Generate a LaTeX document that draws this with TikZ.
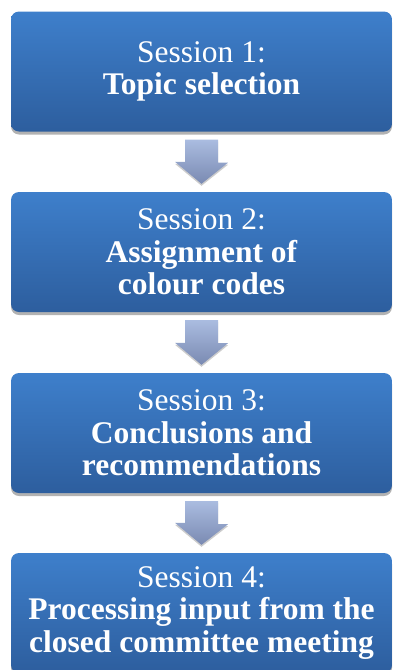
\documentclass[tikz,border=0pt]{standalone}
\usepackage{fontspec}
\setmainfont{Liberation Serif}
\usetikzlibrary{shadows}

\definecolor{boxtop}{RGB}{62,127,203}
\definecolor{boxbot}{RGB}{45,94,158}
\definecolor{arrtop}{RGB}{170,188,224}
\definecolor{arrbot}{RGB}{122,138,178}

% block arrow from the bottom of one session to the top of the next
\newcommand{\sessarrow}[2]{%
  \shade [arrowfill] ([xshift=-16.5pt,yshift=-8pt]#1.south) -- ++(33,0) -- ++(0,-23)
    -- ++(10,0) -- ([yshift=8pt]#2.north) -- ++(-26.5,22) -- ++(10,0) -- cycle;}

\begin{document}
\begin{tikzpicture}[x=1pt, y=1pt]
\tikzset{
  session/.style={rectangle, rounded corners=8pt, minimum width=381pt, minimum height=120pt,
    top color=boxtop, bottom color=boxbot, text=white, align=center, inner sep=0pt,
    font=\fontsize{31.5}{32.5}\selectfont,
    drop shadow={shadow xshift=0pt, shadow yshift=-3pt, opacity=0.3, fill=black}},
  arrowfill/.style={top color=arrtop, bottom color=arrbot,
    drop shadow={shadow xshift=0pt, shadow yshift=-2pt, opacity=0.2, fill=black}},
}
\clip (0,0) rectangle (393,-670);
%\draw [lightgray, dashed](0,0) grid (393,-670);

\node [session] (S1) at (201.5,-71.5) {Session 1:\\ \textbf{Topic selection}};
\node [session] (S2) at (201.5,-252)  {Session 2:\\ \textbf{Assignment of}\\ \textbf{colour codes}};
\node [session] (S3) at (201.5,-433)  {Session 3:\\ \textbf{Conclusions and}\\ \textbf{recommendations}};
\node [session] (S4) at (201.5,-613)  {Session 4:\\ \textbf{Processing input from the}\\ \textbf{closed committee meeting}};

\sessarrow{S1}{S2}
\sessarrow{S2}{S3}
\sessarrow{S3}{S4}

\end{tikzpicture}
\end{document}
